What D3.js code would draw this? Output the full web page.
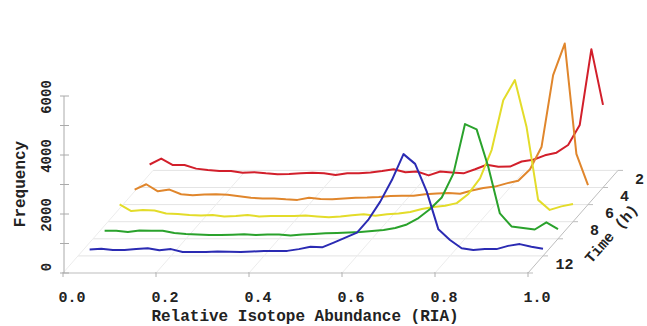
<!DOCTYPE html>
<html>
<head>
<meta charset="utf-8">
<script src="https://cdn.jsdelivr.net/npm/d3@7"></script>
<style>
  html, body { margin: 0; padding: 0; background: #fff; }
  svg { display: block; }
  text { font-family: "Liberation Mono", "DejaVu Sans Mono", monospace; font-weight: bold; fill: #222; }
</style>
</head>
<body>
<svg id="chart" width="647" height="326"></svg>
<script>
// RIA bins (upper edge of each 0.025-wide bin)
const ria = [0.025, 0.05, 0.075, 0.1, 0.125, 0.15, 0.175, 0.2, 0.225, 0.25,
             0.275, 0.3, 0.325, 0.35, 0.375, 0.4, 0.425, 0.45, 0.475, 0.5,
             0.525, 0.55, 0.575, 0.6, 0.625, 0.65, 0.675, 0.7, 0.725, 0.75,
             0.775, 0.8, 0.825, 0.85, 0.875, 0.9, 0.925, 0.95, 0.975, 1.0];

// Frequency per bin for each labelling time, back row first
const freq2 = [780, 980, 760, 760, 640, 590, 560, 560, 500, 520, 480, 450, 460, 480, 500, 480, 420, 480, 480, 510,
               560, 620, 520, 540, 410, 540, 510, 480, 620, 770, 700, 710, 880, 940, 1090, 1180, 1440, 2120, 4690, 2800];
const freq4 = [510, 690, 450, 510, 350, 320, 340, 350, 330, 280, 230, 210, 210, 180, 160, 230, 190, 180, 210, 230,
               240, 260, 290, 300, 300, 350, 380, 390, 370, 480, 560, 610, 720, 810, 1190, 1950, 4390, 5460, 1720, 660];
const freq6 = [590, 360, 400, 380, 280, 260, 230, 210, 230, 180, 190, 230, 180, 190, 190, 190, 210, 180, 150, 180,
               220, 250, 200, 250, 280, 330, 430, 500, 540, 630, 940, 1470, 2430, 4120, 4800, 3220, 740, 400, 520, 600];
const freq8 = [275, 275, 230, 280, 275, 275, 200, 165, 145, 130, 130, 140, 155, 130, 145, 145, 110, 145, 165, 185,
               200, 215, 230, 265, 300, 365, 485, 705, 1010, 1400, 2210, 3890, 3710, 2440, 860, 420, 365, 315, 560, 330];
const freq10 = [220, 240, 200, 200, 230, 260, 190, 230, 130, 130, 130, 150, 140, 130, 150, 170, 170, 170, 230, 310,
                290, 450, 620, 790, 1240, 1840, 2570, 3450, 3120, 2180, 900, 540, 260, 200, 230, 230, 340, 400, 310, 240];

const seriesTimes = [2, 4, 6, 8, 10];
const seriesValues = [freq2, freq4, freq6, freq8, freq10];
const seriesColors = ["#d21f2b", "#e0862c", "#e3dc2a", "#2aa22c", "#2b2bb3"];

// Axis tick labels
const riaTicks = [0, 0.2, 0.4, 0.6, 0.8, 1.0];
const freqTicks = [0, 2000, 4000, 6000];
const freqMinorTicks = [0, 1000, 2000, 3000, 4000, 5000, 6000];
const timeTicks = [2, 4, 6, 8, 12];

const svg = d3.select("#chart");

// Oblique projection: x = RIA, depth = time (0 at the back, 12 at the front), height = frequency
const xScale = d3.scaleLinear().domain([0, 1]).range([63, 528]);
const yScale = d3.scaleLinear().domain([0, 6000]).range([273, 96]);
const depthScale = d3.scaleLinear().domain([12, 0]).range([0, 1]);
const depthVec = [90, -102.6];

function project(r, t, v) {
  const d = depthScale(t);
  return [xScale(r) + d * depthVec[0], yScale(v) + d * depthVec[1]];
}

// Floor grid
const floor = svg.append("g");
const timeGrid = depthScale.ticks(6);
timeGrid.forEach(t => {
  const a = project(0, t, 0), b = project(1, t, 0);
  floor.append("line")
    .attr("x1", a[0]).attr("y1", a[1]).attr("x2", b[0]).attr("y2", b[1])
    .attr("stroke", t === 12 ? "#bdbdbd" : "#e4e4e4").attr("stroke-width", 1);
});
riaTicks.forEach(r => {
  const a = project(r, 12, 0), b = project(r, 0, 0);
  floor.append("line")
    .attr("x1", a[0]).attr("y1", a[1]).attr("x2", b[0]).attr("y2", b[1])
    .attr("stroke", r === 1 ? "#bdbdbd" : "#ececec").attr("stroke-width", 1);
  // front-edge ticks
  floor.append("line")
    .attr("x1", a[0]).attr("y1", a[1] - 1).attr("x2", a[0]).attr("y2", a[1] + 4)
    .attr("stroke", "#b0b0b0").attr("stroke-width", 1);
});
// depth-edge ticks
timeGrid.forEach(t => {
  const p = project(1, t, 0);
  floor.append("line")
    .attr("x1", p[0]).attr("y1", p[1]).attr("x2", p[0] + 5).attr("y2", p[1])
    .attr("stroke", "#bdbdbd").attr("stroke-width", 1);
});

// Frequency axis on the front-left corner
const yAxisX = xScale(0) + 1;
svg.append("line")
  .attr("x1", yAxisX).attr("y1", yScale(0)).attr("x2", yAxisX).attr("y2", yScale(6000))
  .attr("stroke", "#aaaaaa").attr("stroke-width", 1);
svg.selectAll(".ytick").data(freqMinorTicks).join("line")
  .attr("x1", yAxisX - 4).attr("x2", yAxisX + 5)
  .attr("y1", d => yScale(d)).attr("y2", d => yScale(d))
  .attr("stroke", "#aaaaaa").attr("stroke-width", 1);
svg.selectAll(".ylab").data(freqTicks).join("text")
  .attr("transform", d => `translate(51,${Math.min(yScale(d) + 1, yScale(0) - 6)}) rotate(-90)`)
  .attr("text-anchor", "middle")
  .attr("font-size", 14)
  .text(d => d);
svg.append("text")
  .attr("transform", "translate(25,184) rotate(-90)")
  .attr("text-anchor", "middle")
  .attr("font-size", 16)
  .text("Frequency");

// RIA axis labels
svg.selectAll(".xlab").data(riaTicks).join("text")
  .attr("x", d => xScale(d) + 9)
  .attr("y", 302)
  .attr("text-anchor", "middle")
  .attr("font-size", 15)
  .text(d3.format(".1f"));
svg.append("text")
  .attr("x", 305).attr("y", 321)
  .attr("text-anchor", "middle")
  .attr("font-size", 16)
  .text("Relative Isotope Abundance (RIA)");

// Time axis labels along the right depth edge
svg.selectAll(".tlab").data(timeTicks).join("text")
  .attr("x", d => project(1, d - 1, 0)[0] + 29)
  .attr("y", d => project(1, d - 1, 0)[1] + 5)
  .attr("text-anchor", "middle")
  .attr("font-size", 15)
  .text(d => d);
const ang = Math.atan2(depthVec[1], depthVec[0]) * 180 / Math.PI;
svg.append("text")
  .attr("transform", `translate(615,237) rotate(${ang})`)
  .attr("text-anchor", "middle")
  .attr("font-size", 15)
  .text("Time (h)");

// Frequency traces, back to front
const line = d3.line()
  .x(d => d[0]).y(d => d[1]);
seriesValues.forEach((vals, i) => {
  const t = seriesTimes[i];
  const pts = vals.map((v, k) => project(ria[k], t, v));
  svg.append("path")
    .attr("d", line(pts))
    .attr("fill", "none")
    .attr("stroke", seriesColors[i])
    .attr("stroke-width", 2)
    .attr("stroke-linejoin", "round");
});
</script>
</body>
</html>
